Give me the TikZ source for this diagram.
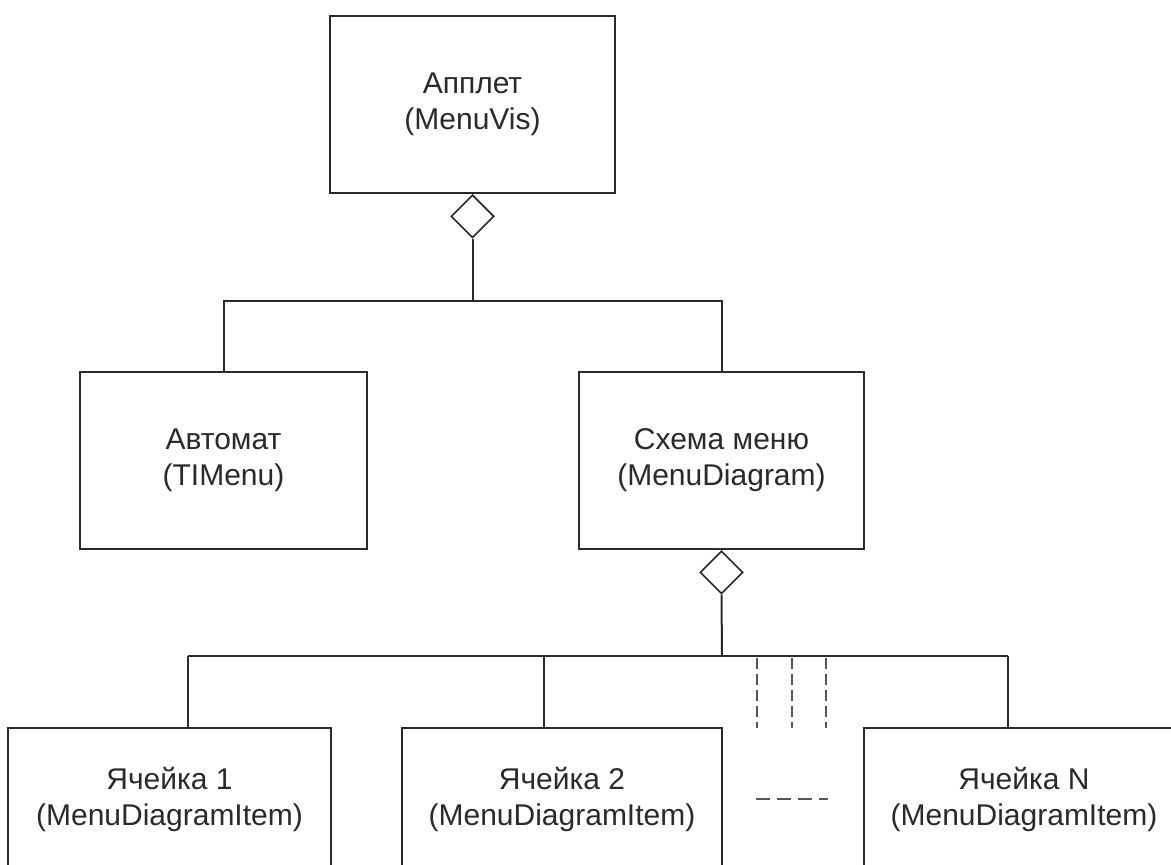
\documentclass[tikz,border=0pt]{standalone}
\usepackage{fontspec}
\setmainfont{Liberation Sans}
\usetikzlibrary{shapes.geometric}
\definecolor{ink}{HTML}{2A2A2A}
\tikzset{
  cls/.style={draw=ink, line width=2pt, fill=white, align=center, text=ink,
    inner sep=0pt, font=\fontsize{30}{36}\selectfont},
  agg/.style={diamond, draw=ink, line width=1.6pt, fill=white, inner sep=0pt,
    minimum width=43pt, minimum height=43pt, aspect=1},
  wire/.style={draw=ink, line width=2pt},
  gapline/.style={draw=ink!80, line width=2pt, dash pattern=on 11pt off 5pt},
}
\begin{document}
\begin{tikzpicture}[x=1pt, y=-1pt]
\useasboundingbox (0,0) rectangle (1171,865);
\clip (0,0) rectangle (1171,865);
\fill[white] (0,0) rectangle (1171,865);

% top-level class
\node[cls, minimum width=285pt, minimum height=177pt] (applet) at (472.5,104.5)
  {Апплет\\(MenuVis)};
\node[agg, anchor=north] (aggA) at (applet.south) {};

% second level
\node[cls, minimum width=287pt, minimum height=177pt] (automat) at (223.5,460.5)
  {Автомат\\(TIMenu)};
\node[cls, minimum width=285pt, minimum height=177pt] (scheme) at (721.5,460.5)
  {Схема меню\\(MenuDiagram)};
\node[agg, anchor=north] (aggB) at (scheme.south) {};

% cells
\node[cls, minimum width=323pt, minimum height=142pt] (cell1) at (169.5,799)
  {Ячейка 1\\(MenuDiagramItem)};
\node[cls, minimum width=320pt, minimum height=142pt] (cell2) at (562,799)
  {Ячейка 2\\(MenuDiagramItem)};
\node[cls, minimum width=320pt, minimum height=142pt] (cellN) at (1024,799)
  {Ячейка N\\(MenuDiagramItem)};

% aggregation of the applet
\coordinate (busA) at (472.5,301);
\draw[wire] (aggA.south) -- (busA);
\draw[wire] (automat.north) |- (busA) -| (scheme.north);

% aggregation of the menu diagram
\coordinate (busB) at (722,656);
\coordinate (tap1) at (188,656);
\coordinate (tap2) at (544,656);
\coordinate (tapN) at (1008,656);
\draw[wire] (aggB.south) -- (busB);
\draw[wire] (tap1) -- (tapN);
\draw[wire] (tap1) -- (tap1 |- cell1.north);
\draw[wire] (tap2) -- (tap2 |- cell2.north);
\draw[wire] (tapN) -- (tapN |- cellN.north);

% omitted cells
\coordinate (gap1) at (757,658);
\coordinate (gap2) at (792,658);
\coordinate (gap3) at (826,658);
\draw[gapline] (gap1) -- ++(0,70);
\draw[gapline] (gap2) -- ++(0,70);
\draw[gapline] (gap3) -- ++(0,70);
\coordinate (dots) at (756,799);
\draw[gapline, dash pattern=on 14pt off 7pt] (dots) -- ++(72,0);
\end{tikzpicture}
\end{document}
